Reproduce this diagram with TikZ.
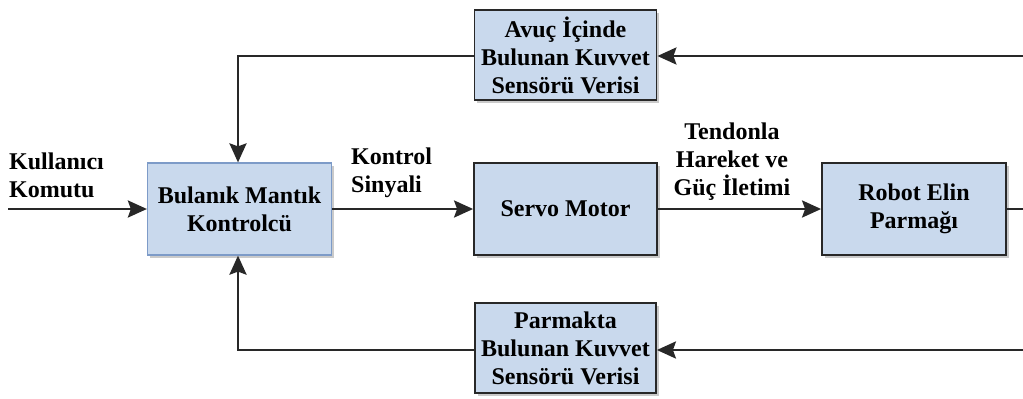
\documentclass[tikz,border=0pt]{standalone}
\usepackage{fontspec}
\setmainfont{Liberation Serif}
\usetikzlibrary{arrows.meta,shadows}
\definecolor{boxfill}{RGB}{201,217,237}
\definecolor{boxline}{RGB}{40,40,40}
\definecolor{bluline}{RGB}{125,155,200}
\definecolor{wire}{RGB}{40,40,40}
\tikzset{
  blk/.style={draw=boxline, line width=1.8pt, fill=boxfill, align=center,
    font=\fontsize{24}{28}\selectfont\bfseries, inner sep=0pt,
    drop shadow={shadow xshift=2.5pt, shadow yshift=-2.5pt, fill=black!35, opacity=0.6}},
  lbl/.style={font=\fontsize{24}{28}\selectfont\bfseries, inner sep=0pt},
  conn/.style={draw=wire, line width=2.8pt,
    -{Stealth[length=19pt, width=17pt, inset=3pt]}},
  plain/.style={draw=wire, line width=2.8pt}
}
\begin{document}
\begin{tikzpicture}[x=1pt,y=-1pt]
\useasboundingbox (0,0) rectangle (1023,399);
\node[blk, minimum width=182pt, minimum height=90pt] (top) at (565.5,55) {Avuç İçinde\\Bulunan Kuvvet\\Sensörü Verisi};
\node[blk, draw=bluline, line width=1.2pt, minimum width=184pt, minimum height=92pt] (bul) at (239.5,209) {Bulanık Mantık\\Kontrolcü};
\node[blk, minimum width=183pt, minimum height=92pt] (servo) at (565.5,209) {Servo Motor};
\node[blk, minimum width=184pt, minimum height=92pt] (robot) at (914,209) {Robot Elin\\Parmağı};
\node[blk, minimum width=181pt, minimum height=90pt] (bot) at (565.5,348) {Parmakta\\Bulunan Kuvvet\\Sensörü Verisi};

\node[lbl, anchor=west, align=left] (kul) at (9,175) {Kullanıcı\\Komutu};
\node[lbl, anchor=west, align=left] (kon) at (351,173) {Kontrol\\Sinyali};
\node[lbl, align=center] (ten) at (732,162) {Tendonla\\Hareket ve\\Güç İletimi};

\coordinate (in) at (8,209);
\coordinate (rout) at (1024,209);
\coordinate (rtop) at (1024,56);
\coordinate (rbot) at (1024,350);
\coordinate (ltop) at (238,56);
\coordinate (lbot) at (238,350);

\draw[conn] (in) -- (bul.west);
\draw[conn] (bul.east) -- (servo.west);
\draw[conn] (servo.east) -- (robot.west);
\draw[plain] (robot.east) -- (rout);
\draw[conn] (rtop) -- (top.east |- rtop);
\draw[conn] (top.west |- ltop) -- (ltop) -- (bul.north -| ltop);
\draw[conn] (rbot) -- (bot.east |- rbot);
\draw[conn] (bot.west |- lbot) -- (lbot) -- (bul.south -| lbot);
\end{tikzpicture}
\end{document}
